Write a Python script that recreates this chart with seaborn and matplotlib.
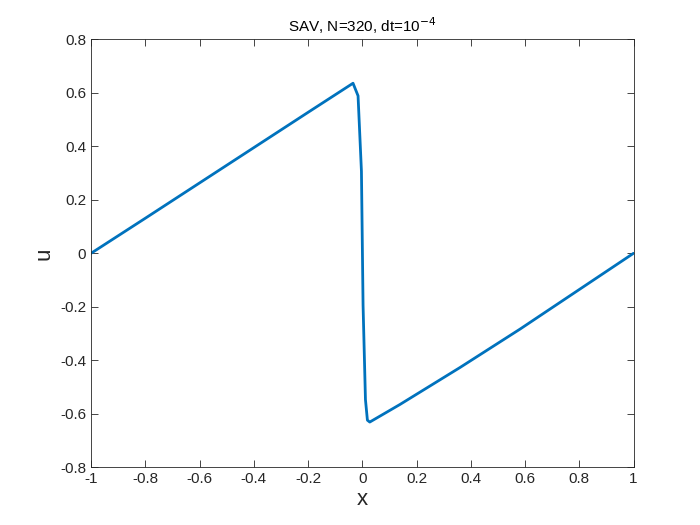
import matplotlib
matplotlib.use("Agg")
import matplotlib.pyplot as plt
import seaborn as sns
import pandas as pd

x_vals = [-1.0, -0.8, -0.6, -0.4, -0.2, -0.034, -0.0155, -0.003, 0.003, 0.0118, 0.019, 0.0277,
          0.1386, 0.3604, 0.5823, 0.656, 1.0]
u_vals = [0.0, 0.131, 0.263, 0.395, 0.527, 0.636, 0.589, 0.307, -0.194, -0.547, -0.624, -0.631,
          -0.5655, -0.427, -0.283, -0.233, 0.0]
x_ticks = [-1, -0.8, -0.6, -0.4, -0.2, 0, 0.2, 0.4, 0.6, 0.8, 1]
y_ticks = [-0.8, -0.6, -0.4, -0.2, 0, 0.2, 0.4, 0.6, 0.8]

sns.set_style("white")
plt.rcParams['font.family'] = ['Liberation Sans', 'DejaVu Sans']

df = pd.DataFrame({"x": x_vals, "u": u_vals})
fig = plt.figure(figsize=(7, 5.25), dpi=100)
ax = fig.add_axes([0.13, 0.11, 0.775, 0.815])
sns.lineplot(data=df, x="x", y="u", sort=False, color="#0072BD", linewidth=2, ax=ax)

ax.set_xlim(-1, 1)
ax.set_ylim(-0.8, 0.8)
ax.set_xticks(x_ticks)
ax.set_yticks(y_ticks)
ax.set_xticklabels([f"{t:g}" for t in x_ticks])
ax.set_yticklabels([f"{t:g}" for t in y_ticks])
grey = "#262626"
ax.tick_params(direction="in", length=5, width=0.6, colors=grey, labelsize=11,
               top=True, right=True, bottom=True, left=True)
for s in ax.spines.values():
    s.set_visible(True)
    s.set_color(grey)
    s.set_linewidth(0.6)
ax.set_xlabel("x", fontsize=16, color=grey, labelpad=2)
ax.set_ylabel("u", fontsize=16, color=grey, labelpad=4)
ax.set_title(r"SAV, N=320, dt=10$^{-4}$", fontsize=11, color="#000000", pad=5)
fig.savefig("out.png", dpi=100)
